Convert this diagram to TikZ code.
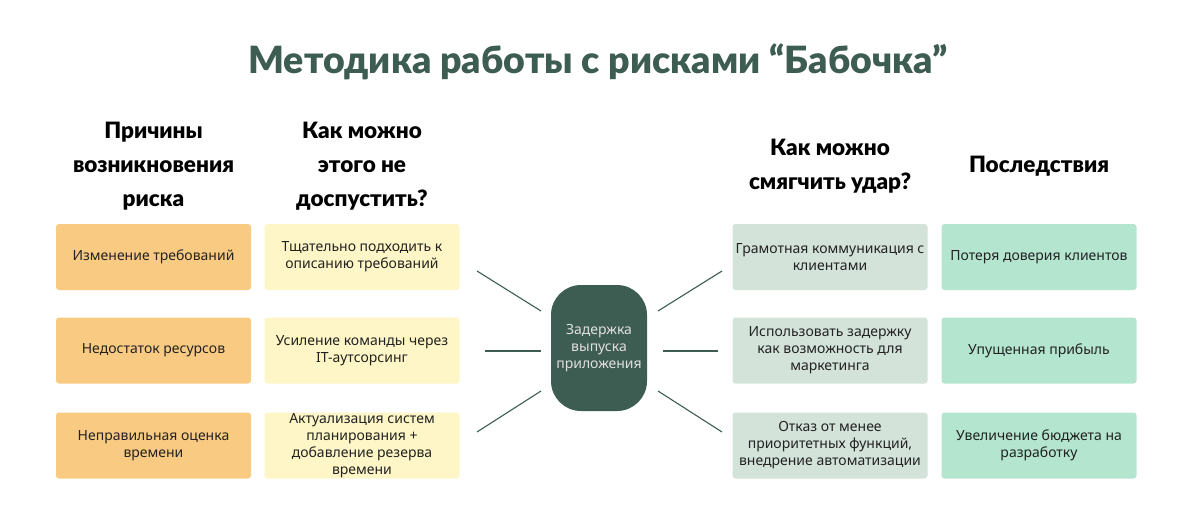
\documentclass[tikz,border=0pt]{standalone}
\usepackage{fontspec}
\setmainfont{Noto Sans}
\newfontfamily\headfont{Lato Black}
\definecolor{dgreen}{HTML}{3D5C52}
\definecolor{orangebox}{HTML}{F9CB82}
\definecolor{yellowbox}{HTML}{FEF6C6}
\definecolor{greybox}{HTML}{D3E3DA}
\definecolor{mintbox}{HTML}{B4E6CF}
\definecolor{txt}{HTML}{222222}
\begin{document}
\begin{tikzpicture}[x=1pt,y=-1pt,
  box/.style={rounded corners=3pt, minimum width=195pt, minimum height=66pt,
    inner sep=0pt, align=center, text=txt,
    font=\fontsize{14}{17}\selectfont},
  cause/.style={box, fill=orangebox},
  prevent/.style={box, fill=yellowbox},
  soften/.style={box, fill=greybox},
  effect/.style={box, fill=mintbox},
  head/.style={align=center, font=\headfont\fontsize{22.5}{34}\selectfont, text=black},
  spoke/.style={draw=dgreen, line width=1.1pt}]
\useasboundingbox (0,0) rectangle (1199,507);
\fill[white] (0,0) rectangle (1199,507);

\node[anchor=base, text=dgreen, font=\headfont\fontsize{37.5}{42}\selectfont] (title) at (598,73) {Методика работы с рисками “Бабочка”};

\node[head] (h1) at (153.5,166) {Причины\\возникновения\\риска};
\node[head] (h2) at (362,166) {Как можно\\этого не\\доспустить?};
\node[head] (h3) at (830,166) {Как можно\\смягчить удар?};
\node[head] (h4) at (1039,166) {Последствия};

\node[cause] (c1) at (153.5,257) {Изменение требований};
\node[cause] (c2) at (153.5,350.5) {Недостаток ресурсов};
\node[cause] (c3) at (153.5,445.5) {Неправильная оценка\\времени};

\node[prevent] (p1) at (362,257) {Тщательно подходить к\\описанию требований};
\node[prevent] (p2) at (362,350.5) {Усиление команды через\\IT-аутсорсинг};
\node[prevent] (p3) at (362,445.5) {Актуализация систем\\планирования +\\добавление резерва\\времени};

\node[soften] (s1) at (830,257) {Грамотная коммуникация с\\клиентами};
\node[soften] (s2) at (830,350.5) {Использовать задержку\\как возможность для\\маркетинга};
\node[soften] (s3) at (830,445.5) {Отказ от менее\\приоритетных функций,\\внедрение автоматизации};

\node[effect] (e1) at (1039,257) {Потеря доверия клиентов};
\node[effect] (e2) at (1039,350.5) {Упущенная прибыль};
\node[effect] (e3) at (1039,445.5) {Увеличение бюджета на\\разработку};

\node[fill=dgreen, rounded corners=30pt, minimum width=96pt, minimum height=126pt,
  inner sep=0pt, align=center, text=white!88!black,
  font=\fontsize{14}{17}\selectfont] (center) at (599,348) {Задержка\\выпуска\\приложения};

\coordinate (la1) at (477,271); \coordinate (lb1) at (541,311);
\coordinate (la2) at (485,351); \coordinate (lb2) at (541,351);
\coordinate (la3) at (477,432); \coordinate (lb3) at (541,391);
\coordinate (ra1) at (722,271); \coordinate (rb1) at (658,311);
\coordinate (ra2) at (718,351); \coordinate (rb2) at (663,351);
\coordinate (ra3) at (722,432); \coordinate (rb3) at (658,391);
\foreach \i in {1,2,3} {
  \draw[spoke] (la\i) -- (lb\i);
  \draw[spoke] (ra\i) -- (rb\i);
}
\end{tikzpicture}
\end{document}
